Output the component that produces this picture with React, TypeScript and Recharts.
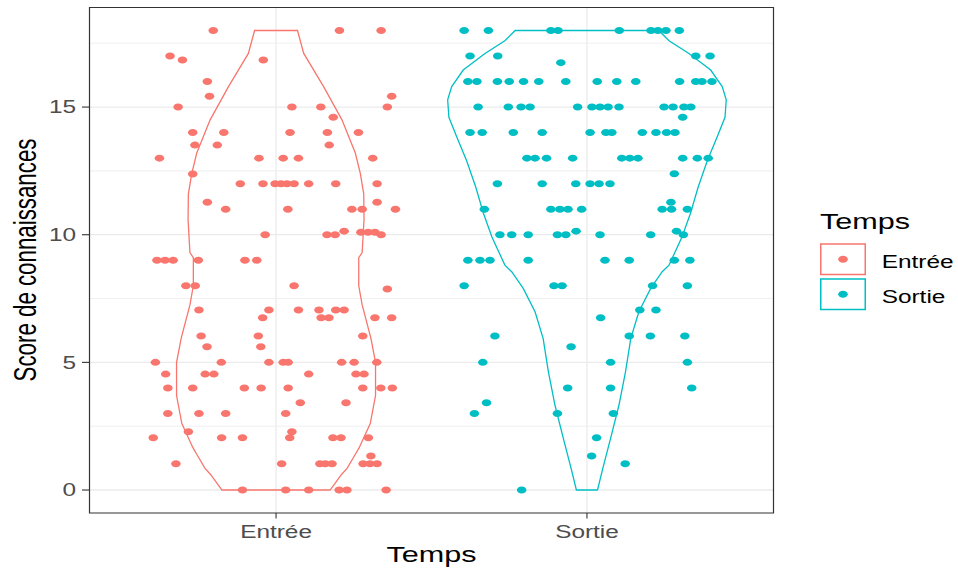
import React from 'react';
import {
  ComposedChart,
  Scatter,
  XAxis,
  YAxis,
  CartesianGrid,
  ReferenceArea,
  Label,
} from 'recharts';

const GROUPS = ['Entrée', 'Sortie'];
const COLORS = ['#F8766D', '#00BFC4'];
const Y_TICKS = [0, 5, 10, 15];
const Y_MINOR = [2.5, 7.5, 12.5, 17.5];

// scores and horizontal jitter of each point
const entreeScore = [
  18, 17, 16.84, 16.84, 16, 15.42, 15, 14, 14, 13.51, 13.51, 13, 13, 12.38, 12, 12, 11.27, 11, 10, 9, 9, 9, 9, 9, 9,
  18, 18, 15.42, 15, 15, 15, 14.6, 14, 14, 14, 13.51, 13, 13, 13, 12, 12, 12, 12, 12, 12, 12, 11.27, 11, 11, 11, 11,
  10, 10, 10.14, 10.1, 10.1, 10.1, 10,
  8, 8, 7.05, 7.05, 6.75, 6.03, 6.03, 5.61, 5.61, 5, 5, 5, 4.54, 4.54, 4.54, 4, 4, 4, 4, 3, 3, 3, 2.28, 2.05, 2.05,
  2.05, 1.03, 0,
  8, 7.87, 7.05, 7.05, 7.05, 7.05, 6.75, 6.75, 6.75, 6.75, 6.03, 5, 5, 5, 5, 5, 4.54, 4.54, 4.54, 4, 4, 4, 4, 3.42,
  3.42, 3, 2.28, 2.05, 2.05, 2.05, 2.05, 1.33, 1.03, 1.03, 1.03, 1.03, 1.03, 1.03, 1.03, 0, 0, 0, 0, 0,
];
const entreeJitter = [
  -0.202, -0.341, -0.301, -0.041, -0.221, -0.214, -0.315, -0.268, -0.168, -0.261, -0.189, -0.375, -0.055, -0.268,
  -0.115, -0.042, -0.221, -0.162, -0.035, -0.383, -0.357, -0.331, -0.25, -0.1, -0.062,
  0.204, 0.338, 0.372, 0.051, 0.144, 0.358, 0.184, 0.045, 0.165, 0.265, 0.171, 0.023, 0.072, 0.311, -0.003, 0.016,
  0.035, 0.058, 0.105, 0.192, 0.325, 0.325, 0.038, 0.244, 0.277, 0.384, 0.164, 0.19, 0.219, 0.273, 0.296, 0.318,
  0.338,
  -0.29, -0.26, -0.248, -0.023, -0.043, -0.241, -0.057, -0.222, -0.049, -0.388, -0.176, -0.023, -0.355, -0.228, -0.2,
  -0.348, -0.268, -0.102, -0.048, -0.348, -0.248, -0.162, -0.282, -0.395, -0.175, -0.108, -0.322, -0.108,
  0.058, 0.358, 0.072, 0.138, 0.192, 0.219, 0.145, 0.17, 0.318, 0.372, 0.279, 0.023, 0.039, 0.211, 0.251, 0.324,
  0.257, 0.283, 0.105, 0.039, 0.279, 0.337, 0.374, 0.078, 0.225, 0.031, 0.051, 0.044, 0.183, 0.209, 0.297, 0.305,
  0.018, 0.141, 0.158, 0.18, 0.28, 0.302, 0.325, 0.031, 0.105, 0.203, 0.228, 0.354,
];
const sortieScore = [
  18, 18, 18, 18, 17, 17, 16.74, 16, 16, 16, 16, 16, 16, 16, 15, 15, 15, 15, 15, 14, 14, 14, 14, 13, 13, 13, 13, 12,
  12, 12, 11, 11, 11, 11, 11, 10, 10, 10, 10, 10, 10.14, 9, 9, 9, 9,
  18, 18, 18, 18, 18, 17, 17, 16, 16, 16, 16, 16, 16, 16, 15, 15, 15, 15, 15, 15, 15, 15, 14.6, 14, 14, 14, 14, 14,
  14, 14, 13, 13, 13, 13, 13, 13, 12.39, 12, 12, 12, 11.27, 11, 11, 11, 10, 10, 10.14, 10, 9, 9, 9, 9,
  8, 8, 8, 6.03, 5.61, 5, 4, 3.42, 3, 3, 0,
  8, 8, 6.75, 7.05, 7.05, 6.03, 6.03, 6.03, 5, 5, 4, 4, 3, 2.05, 1.33, 1.03,
];
const sortieJitter = [
  -0.395, -0.317, -0.116, -0.093, -0.376, -0.287, -0.084, -0.383, -0.354, -0.288, -0.25, -0.204, -0.155, -0.068,
  -0.35, -0.253, -0.212, -0.183, -0.03, -0.376, -0.337, -0.237, -0.144, -0.193, -0.167, -0.13, -0.046, -0.288,
  -0.144, -0.036, -0.33, -0.116, -0.087, -0.061, -0.017, -0.28, -0.242, -0.189, -0.095, -0.068, -0.035, -0.383,
  -0.344, -0.312, -0.189,
  0.104, 0.206, 0.228, 0.254, 0.297, 0.35, 0.396, 0.033, 0.096, 0.157, 0.298, 0.35, 0.37, 0.402, 0.016, 0.042, 0.068,
  0.103, 0.248, 0.277, 0.312, 0.334, 0.308, 0.01, 0.061, 0.08, 0.178, 0.222, 0.256, 0.283, 0.112, 0.138, 0.164,
  0.308, 0.355, 0.39, 0.281, 0.01, 0.039, 0.074, 0.27, 0.242, 0.272, 0.323, 0.042, 0.205, 0.288, 0.31, 0.058, 0.136,
  0.281, 0.331,
  -0.395, -0.106, -0.08, -0.296, -0.051, -0.335, -0.062, -0.323, -0.362, -0.095, -0.21,
  0.211, 0.323, 0.044, 0.17, 0.222, 0.136, 0.204, 0.315, 0.076, 0.323, 0.076, 0.337, 0.085, 0.031, 0.015, 0.123,
];

// violin outlines: half width (in category units) at each score level
const entreeViolinY = [0, 0.6, 0.86, 1.4, 1.65, 2.6, 3.7, 5, 5.95, 7.25, 8, 9.1, 9.3, 10.6, 11.6, 12.4, 13.2, 14.5, 15.8, 17.1, 18];
const entreeViolinW = [0.174, 0.21, 0.229, 0.255, 0.267, 0.303, 0.32, 0.32, 0.305, 0.277, 0.266, 0.266, 0.277, 0.283, 0.282, 0.271, 0.255, 0.212, 0.153, 0.089, 0.069];
const sortieViolinY = [0, 0.85, 2.02, 3.33, 4.63, 5.94, 6.98, 7.9, 8.55, 8.81, 9.92, 10.84, 11.88, 12.9, 13.84, 14.6, 15.28, 15.8, 16.45, 17.1, 17.6, 18];
const sortieViolinW = [0.034, 0.051, 0.076, 0.103, 0.124, 0.141, 0.167, 0.205, 0.242, 0.264, 0.306, 0.333, 0.358, 0.387, 0.419, 0.444, 0.448, 0.435, 0.398, 0.328, 0.264, 0.231];

const SX = 1.37; // the picture is stretched sideways
const FONT = '"Liberation Sans", Arial, Helvetica, sans-serif';

const points = (pos: number, scores: number[], jitter: number[]) =>
  scores.map((y, i) => ({ x: pos + jitter[i], y }));

const outline = (pos: number, ys: number[], ws: number[]) => {
  const right = ys.map((y, i) => ({ x: pos + ws[i], y }));
  const left = ys.map((y, i) => ({ x: pos - ws[i], y })).reverse();
  return [...right, ...left, right[0]];
};

const entreePts = points(1, entreeScore, entreeJitter);
const sortiePts = points(2, sortieScore, sortieJitter);
const entreeViolin = outline(1, entreeViolinY, entreeViolinW);
const sortieViolin = outline(2, sortieViolinY, sortieViolinW);

const dot = (color: string) => (p: any) => (
  <ellipse cx={p.cx} cy={p.cy} rx={4.8} ry={3.5} fill={color} />
);
const noShape = () => <g />;

const SText = ({ x, y, size, anchor = 'start', fill = '#000', rotate = false, children }: any) => (
  <text
    transform={`translate(${x},${y}) scale(${SX},1)${rotate ? ' rotate(-90)' : ''}`}
    textAnchor={anchor}
    fontSize={size}
    fontFamily={FONT}
    fill={fill}
  >
    {children}
  </text>
);

const XTick = (p: any) => (
  <SText x={p.x} y={p.y + 17} size={17.8} anchor="middle" fill="#4D4D4D">
    {GROUPS[Math.round(p.payload.value) - 1]}
  </SText>
);

const YTick = (p: any) => (
  <SText x={p.x} y={p.y + 6.4} size={17.8} anchor="end" fill="#4D4D4D">
    {p.payload.value}
  </SText>
);

const LegendBox = () => (
  <svg width={148} height={125} style={{ position: 'absolute', left: 810, top: 195 }}>
    <SText x={10} y={34.3} size={22.3}>Temps</SText>
    {GROUPS.map((g, i) => (
      <g key={g}>
        <rect x={10.75} y={49 + i * 35} width={44.5} height={30.5} fill="#fff" stroke={COLORS[i]} strokeWidth={1.5} />
        <ellipse cx={33} cy={64.2 + i * 35} rx={4.8} ry={3.5} fill={COLORS[i]} />
        <SText x={71.7} y={73.3 + i * 34.4} size={17.8}>{g}</SText>
      </g>
    ))}
  </svg>
);

export default function App() {
  return (
    <div style={{ position: 'absolute', left: 0, top: 0, width: 958, height: 572, background: '#fff' }}>
      <ComposedChart width={958} height={572} margin={{ top: 7.5, right: 184.5, bottom: 0, left: 0 }}>
        <CartesianGrid horizontalValues={Y_MINOR} vertical={false} stroke="#EBEBEB" strokeWidth={0.8} />
        <CartesianGrid horizontalValues={Y_TICKS} verticalValues={[1, 2]} stroke="#EBEBEB" strokeWidth={1.3} />
        <XAxis
          type="number"
          dataKey="x"
          domain={[0.4, 2.6]}
          ticks={[1, 2]}
          allowDataOverflow
          height={59}
          tickSize={5.6}
          tickMargin={2}
          axisLine={false}
          tickLine={{ stroke: '#333333', strokeWidth: 1.1 }}
          tick={<XTick />}
        >
          <Label content={() => <SText x={431.5} y={562} size={22.3} anchor="middle">Temps</SText>} />
        </XAxis>
        <YAxis
          type="number"
          dataKey="y"
          domain={[-0.9, 18.9]}
          ticks={Y_TICKS}
          allowDataOverflow
          width={89.5}
          tickSize={7.5}
          tickMargin={6}
          axisLine={false}
          tickLine={{ stroke: '#333333', strokeWidth: 1.1 }}
          tick={<YTick />}
        >
          <Label
            content={() => (
              <SText x={36} y={260} size={22.3} anchor="middle" rotate>
                Score de connaissances
              </SText>
            )}
          />
        </YAxis>
        <Scatter data={entreeViolin} dataKey="y" line={{ stroke: COLORS[0], strokeWidth: 1.3 }} shape={noShape} isAnimationActive={false} legendType="none" />
        <Scatter data={sortieViolin} dataKey="y" line={{ stroke: COLORS[1], strokeWidth: 1.3 }} shape={noShape} isAnimationActive={false} legendType="none" />
        <Scatter data={entreePts} dataKey="y" shape={dot(COLORS[0])} isAnimationActive={false} />
        <Scatter data={sortiePts} dataKey="y" shape={dot(COLORS[1])} isAnimationActive={false} />
        <ReferenceArea x1={0.4} x2={2.6} y1={-0.9} y2={18.9} fill="none" stroke="#333333" strokeWidth={1.2} ifOverflow="visible" />
      </ComposedChart>
      <LegendBox />
    </div>
  );
}
